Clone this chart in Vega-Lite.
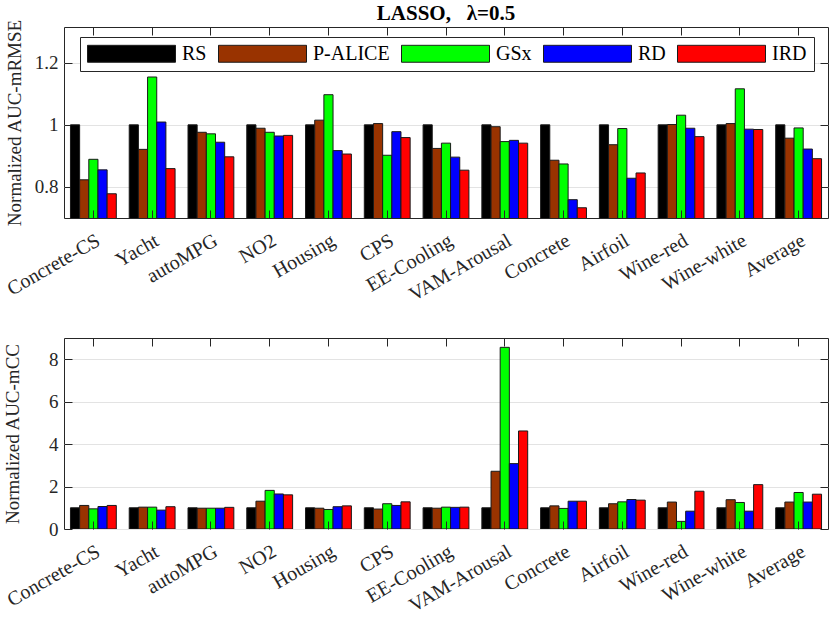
{
  "$schema": "https://vega.github.io/schema/vega-lite/v6.json",
  "description": "LASSO lambda=0.5: normalized AUC-mRMSE and AUC-mCC per dataset, five sampling methods.",
  "background": "white",
  "padding": {"left": 2, "top": 2, "right": 3, "bottom": 0},
  "datasets": {
    "auc": [
      {"dataset": "Concrete-CS", "method": "RS", "rmse": 1, "cc": 1},
      {"dataset": "Concrete-CS", "method": "P-ALICE", "rmse": 0.823, "cc": 1.11},
      {"dataset": "Concrete-CS", "method": "GSx", "rmse": 0.889, "cc": 0.95},
      {"dataset": "Concrete-CS", "method": "RD", "rmse": 0.855, "cc": 1.06},
      {"dataset": "Concrete-CS", "method": "IRD", "rmse": 0.778, "cc": 1.11},
      {"dataset": "Yacht", "method": "RS", "rmse": 1, "cc": 1},
      {"dataset": "Yacht", "method": "P-ALICE", "rmse": 0.921, "cc": 1.03},
      {"dataset": "Yacht", "method": "GSx", "rmse": 1.154, "cc": 1.03},
      {"dataset": "Yacht", "method": "RD", "rmse": 1.009, "cc": 0.89},
      {"dataset": "Yacht", "method": "IRD", "rmse": 0.859, "cc": 1.05},
      {"dataset": "autoMPG", "method": "RS", "rmse": 1, "cc": 1},
      {"dataset": "autoMPG", "method": "P-ALICE", "rmse": 0.976, "cc": 0.98},
      {"dataset": "autoMPG", "method": "GSx", "rmse": 0.971, "cc": 0.98},
      {"dataset": "autoMPG", "method": "RD", "rmse": 0.944, "cc": 0.98},
      {"dataset": "autoMPG", "method": "IRD", "rmse": 0.897, "cc": 1.02},
      {"dataset": "NO2", "method": "RS", "rmse": 1, "cc": 1},
      {"dataset": "NO2", "method": "P-ALICE", "rmse": 0.989, "cc": 1.31},
      {"dataset": "NO2", "method": "GSx", "rmse": 0.976, "cc": 1.82},
      {"dataset": "NO2", "method": "RD", "rmse": 0.964, "cc": 1.65},
      {"dataset": "NO2", "method": "IRD", "rmse": 0.966, "cc": 1.61},
      {"dataset": "Housing", "method": "RS", "rmse": 1, "cc": 1},
      {"dataset": "Housing", "method": "P-ALICE", "rmse": 1.015, "cc": 0.98},
      {"dataset": "Housing", "method": "GSx", "rmse": 1.097, "cc": 0.92},
      {"dataset": "Housing", "method": "RD", "rmse": 0.917, "cc": 1.05},
      {"dataset": "Housing", "method": "IRD", "rmse": 0.906, "cc": 1.09},
      {"dataset": "CPS", "method": "RS", "rmse": 1, "cc": 1},
      {"dataset": "CPS", "method": "P-ALICE", "rmse": 1.004, "cc": 0.94},
      {"dataset": "CPS", "method": "GSx", "rmse": 0.902, "cc": 1.19},
      {"dataset": "CPS", "method": "RD", "rmse": 0.978, "cc": 1.11},
      {"dataset": "CPS", "method": "IRD", "rmse": 0.959, "cc": 1.28},
      {"dataset": "EE-Cooling", "method": "RS", "rmse": 1, "cc": 1},
      {"dataset": "EE-Cooling", "method": "P-ALICE", "rmse": 0.924, "cc": 0.98},
      {"dataset": "EE-Cooling", "method": "GSx", "rmse": 0.941, "cc": 1.03},
      {"dataset": "EE-Cooling", "method": "RD", "rmse": 0.896, "cc": 1.02},
      {"dataset": "EE-Cooling", "method": "IRD", "rmse": 0.854, "cc": 1.03},
      {"dataset": "VAM-Arousal", "method": "RS", "rmse": 1, "cc": 1},
      {"dataset": "VAM-Arousal", "method": "P-ALICE", "rmse": 0.994, "cc": 2.72},
      {"dataset": "VAM-Arousal", "method": "GSx", "rmse": 0.946, "cc": 8.56},
      {"dataset": "VAM-Arousal", "method": "RD", "rmse": 0.95, "cc": 3.08},
      {"dataset": "VAM-Arousal", "method": "IRD", "rmse": 0.941, "cc": 4.62},
      {"dataset": "Concrete", "method": "RS", "rmse": 1, "cc": 1},
      {"dataset": "Concrete", "method": "P-ALICE", "rmse": 0.886, "cc": 1.09},
      {"dataset": "Concrete", "method": "GSx", "rmse": 0.874, "cc": 0.97},
      {"dataset": "Concrete", "method": "RD", "rmse": 0.759, "cc": 1.31},
      {"dataset": "Concrete", "method": "IRD", "rmse": 0.733, "cc": 1.31},
      {"dataset": "Airfoil", "method": "RS", "rmse": 1, "cc": 1},
      {"dataset": "Airfoil", "method": "P-ALICE", "rmse": 0.936, "cc": 1.19},
      {"dataset": "Airfoil", "method": "GSx", "rmse": 0.988, "cc": 1.28},
      {"dataset": "Airfoil", "method": "RD", "rmse": 0.828, "cc": 1.39},
      {"dataset": "Airfoil", "method": "IRD", "rmse": 0.845, "cc": 1.36},
      {"dataset": "Wine-red", "method": "RS", "rmse": 1, "cc": 1},
      {"dataset": "Wine-red", "method": "P-ALICE", "rmse": 1.001, "cc": 1.27},
      {"dataset": "Wine-red", "method": "GSx", "rmse": 1.031, "cc": 0.36},
      {"dataset": "Wine-red", "method": "RD", "rmse": 0.989, "cc": 0.84},
      {"dataset": "Wine-red", "method": "IRD", "rmse": 0.962, "cc": 1.78},
      {"dataset": "Wine-white", "method": "RS", "rmse": 1, "cc": 1},
      {"dataset": "Wine-white", "method": "P-ALICE", "rmse": 1.004, "cc": 1.38},
      {"dataset": "Wine-white", "method": "GSx", "rmse": 1.116, "cc": 1.25},
      {"dataset": "Wine-white", "method": "RD", "rmse": 0.986, "cc": 0.84},
      {"dataset": "Wine-white", "method": "IRD", "rmse": 0.985, "cc": 2.09},
      {"dataset": "Average", "method": "RS", "rmse": 1, "cc": 1},
      {"dataset": "Average", "method": "P-ALICE", "rmse": 0.957, "cc": 1.27},
      {"dataset": "Average", "method": "GSx", "rmse": 0.99, "cc": 1.72},
      {"dataset": "Average", "method": "RD", "rmse": 0.922, "cc": 1.27},
      {"dataset": "Average", "method": "IRD", "rmse": 0.891, "cc": 1.64}
    ]
  },
  "resolve": {"legend": {"color": "independent"}, "scale": {"y": "independent"}},
  "spacing": 32,
  "vconcat": [
    {
      "title": {
        "text": "LASSO,\u00a0\u00a0\u00a0λ=0.5",
        "font": "Liberation Serif",
        "fontSize": 21,
        "fontWeight": "bold",
        "color": "#000000",
        "frame": "group",
        "anchor": "middle",
        "offset": -5
      },
      "width": 764,
      "height": 191,
      "data": {"name": "auc"},
      "resolve": {"axis": {"x": "independent", "y": "independent"}},
      "layer": [
        {
          "mark": {"type": "bar", "clip": true, "stroke": "#1a1a1a", "strokeWidth": 1},
          "encoding": {
            "x": {
              "field": "dataset",
              "type": "nominal",
              "scale": {
                "domain": ["Concrete-CS", "Yacht", "autoMPG", "NO2", "Housing", "CPS", "EE-Cooling", "VAM-Arousal", "Concrete", "Airfoil", "Wine-red", "Wine-white", "Average"],
                "paddingInner": 0.22,
                "paddingOuter": 0.11
              },
              "axis": {"title": null, "labelAngle": -30, "labelFontSize": 20, "tickSize": -8, "zindex": 1, "labelPadding": 20}
            },
            "xOffset": {
              "field": "method",
              "type": "nominal",
              "scale": {"domain": ["RS", "P-ALICE", "GSx", "RD", "IRD"], "paddingInner": 0, "paddingOuter": 0}
            },
            "y": {
              "field": "rmse",
              "type": "quantitative",
              "scale": {"domain": [0.7, 1.315], "nice": false, "zero": false},
              "axis": {"title": "Normalized AUC-mRMSE", "values": [0.8, 1, 1.2], "format": ".1~f", "tickSize": -8, "grid": true, "labelPadding": 14, "titlePadding": 10}
            },
            "color": {
              "field": "method",
              "type": "nominal",
              "scale": {
                "domain": ["RS", "P-ALICE", "GSx", "RD", "IRD"],
                "range": ["#000000", "#993300", "#00ff00", "#0000ff", "#ff0000"]
              },
              "legend": {
                "orient": "none",
                "legendX": 16,
                "legendY": 10,
                "direction": "horizontal",
                "columns": 5,
                "title": null,
                "symbolType": "M-1,-0.193H1V0.193H-1Z",
                "symbolSize": 7744,
                "symbolStrokeColor": "#1a1a1a",
                "symbolStrokeWidth": 1,
                "symbolOpacity": 1,
                "clipHeight": 19,
                "labelFont": "Liberation Serif",
                "labelFontSize": 20,
                "labelColor": "#000000",
                "labelOffset": 6,
                "columnPadding": 11,
                "padding": 7,
                "strokeColor": "#262626",
                "fillColor": "white"
              }
            }
          }
        },
        {
          "mark": {"type": "bar", "clip": true, "opacity": 0},
          "encoding": {
            "x": {"field": "dataset", "type": "nominal", "axis": {"orient": "top", "title": null, "labels": false, "tickSize": -8}},
            "y": {"field": "rmse", "type": "quantitative", "axis": {"orient": "right", "title": null, "labels": false, "grid": false, "values": [0.8, 1, 1.2], "tickSize": -8}}
          }
        }
      ]
    },
    {
      "width": 764,
      "height": 191,
      "data": {"name": "auc"},
      "resolve": {"axis": {"x": "independent", "y": "independent"}},
      "layer": [
        {
          "mark": {"type": "bar", "clip": true, "stroke": "#1a1a1a", "strokeWidth": 1},
          "encoding": {
            "x": {
              "field": "dataset",
              "type": "nominal",
              "scale": {
                "domain": ["Concrete-CS", "Yacht", "autoMPG", "NO2", "Housing", "CPS", "EE-Cooling", "VAM-Arousal", "Concrete", "Airfoil", "Wine-red", "Wine-white", "Average"],
                "paddingInner": 0.22,
                "paddingOuter": 0.11
              },
              "axis": {"title": null, "labelAngle": -30, "labelFontSize": 20, "tickSize": -8, "zindex": 1, "labelPadding": 20}
            },
            "xOffset": {
              "field": "method",
              "type": "nominal",
              "scale": {"domain": ["RS", "P-ALICE", "GSx", "RD", "IRD"], "paddingInner": 0, "paddingOuter": 0}
            },
            "y": {
              "field": "cc",
              "type": "quantitative",
              "scale": {"domain": [0, 9], "nice": false},
              "axis": {"title": "Normalized AUC-mCC", "values": [0, 2, 4, 6, 8], "tickSize": -8, "grid": true, "labelPadding": 14, "titlePadding": 26}
            },
            "color": {
              "field": "method",
              "type": "nominal",
              "scale": {
                "domain": ["RS", "P-ALICE", "GSx", "RD", "IRD"],
                "range": ["#000000", "#993300", "#00ff00", "#0000ff", "#ff0000"]
              },
              "legend": null
            }
          }
        },
        {
          "mark": {"type": "bar", "clip": true, "opacity": 0},
          "encoding": {
            "x": {"field": "dataset", "type": "nominal", "axis": {"orient": "top", "title": null, "labels": false, "tickSize": -8}},
            "y": {"field": "cc", "type": "quantitative", "axis": {"orient": "right", "title": null, "labels": false, "grid": false, "values": [0, 2, 4, 6, 8], "tickSize": -8}}
          }
        }
      ]
    }
  ],
  "config": {
    "font": "Liberation Serif",
    "view": {"stroke": "#262626", "strokeWidth": 1},
    "axis": {
      "labelFont": "Liberation Serif",
      "labelFontSize": 19,
      "labelColor": "#262626",
      "titleFont": "Liberation Serif",
      "titleFontSize": 19,
      "titleFontWeight": "normal",
      "titleColor": "#262626",
      "tickColor": "#262626",
      "tickWidth": 1,
      "gridColor": "#e3e3e3",
      "gridWidth": 1,
      "domain": false
    }
  }
}
